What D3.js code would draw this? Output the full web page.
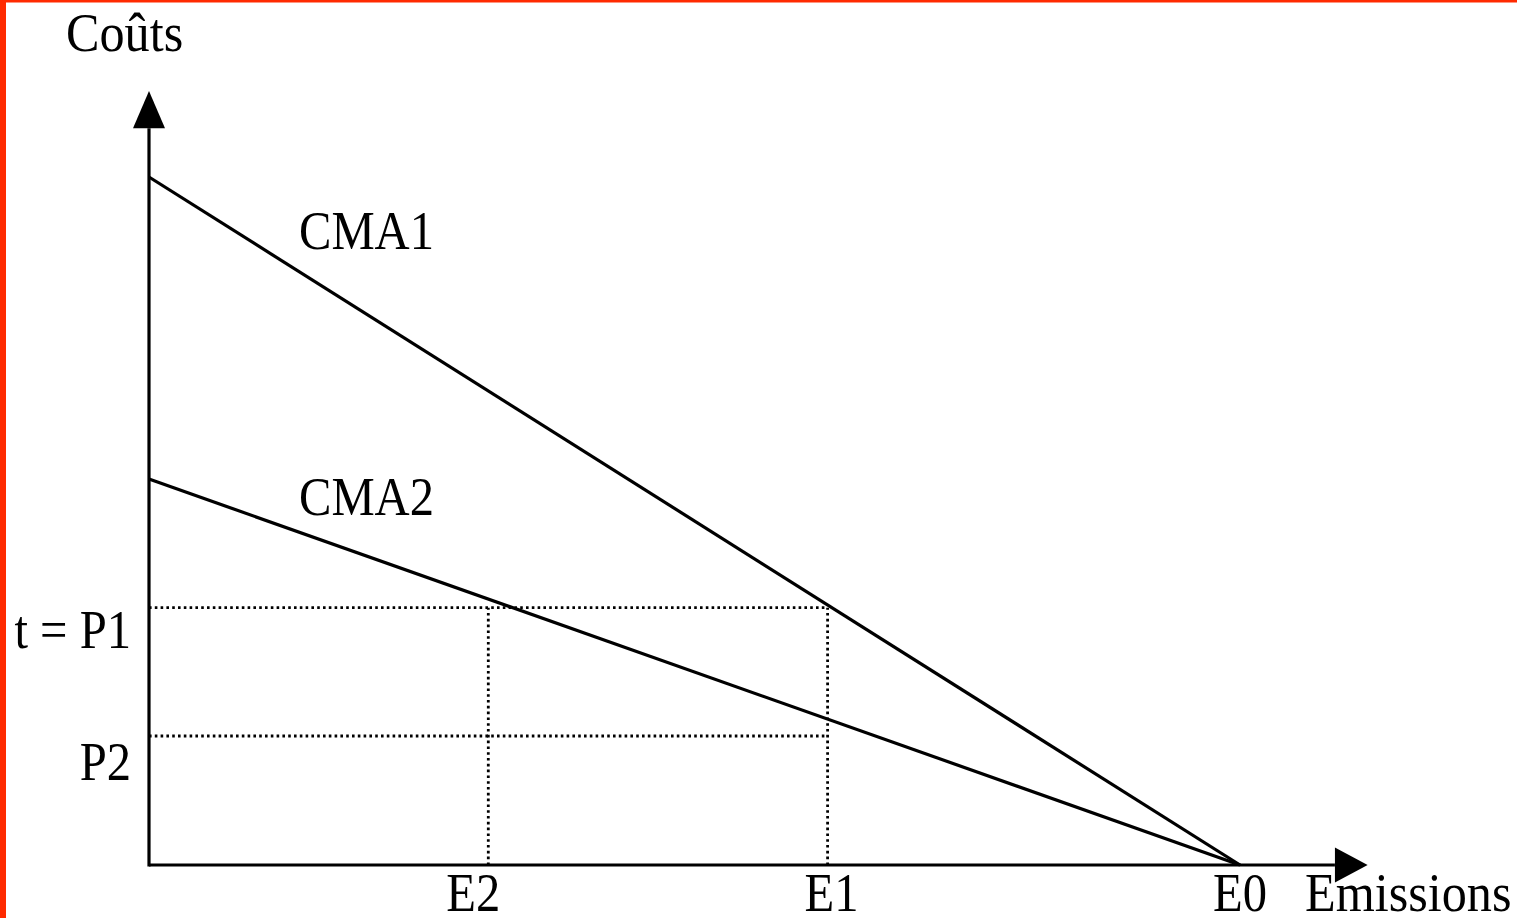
<!DOCTYPE html>
<html>
<head>
<meta charset="utf-8">
<script src="https://cdn.jsdelivr.net/npm/d3@7"></script>
<style>
  html, body { margin: 0; padding: 0; background: #fff; }
  svg { display: block; }
  text { font-family: "Liberation Serif", "Times New Roman", serif; fill: #000; }
</style>
</head>
<body>
<script>
// ---- data ----
const emissionLabels = ["E2", "E1", "E0"];
const emissionValues = [31.1, 62.2, 100];
const priceLabels = ["t = P1", "P2"];
const priceValues = [37.4, 18.75];
const curveNames = ["CMA1", "CMA2"];
const curveIntercepts = [100, 56.1];   // cost at zero emissions
const curveZeroAt = [100, 100];        // emissions where cost reaches 0 (E0)
const xAxisTitle = "Emissions";
const yAxisTitle = "Coûts";

// ---- layout ----
const W = 1517, H = 918;
const x = d3.scaleLinear().domain([0, 100]).range([149, 1240]);
const y = d3.scaleLinear().domain([0, 100]).range([865, 177]);
const xAxisEnd = 108.7, xArrowTip = 111.7;
const yAxisEnd = 107.1, yArrowTip = 112.5;
const FS = 54, SX = 0.9;

const svg = d3.select("body").append("svg").attr("width", W).attr("height", H);

// red frame edges
svg.append("rect").attr("x", 0).attr("y", 0).attr("width", 6).attr("height", H).attr("fill", "#ff2a00");
svg.append("rect").attr("x", 0).attr("y", 0).attr("width", W).attr("height", 2.5).attr("fill", "#ff2a00");

function label(txt, px, py, anchor, sx) {
  const g = svg.append("g").attr("transform", `translate(${px},${py}) scale(${sx || SX},1)`);
  g.append("text").attr("x", 0).attr("y", 0)
    .attr("font-size", FS).attr("text-anchor", anchor || "start").text(txt);
}

// dotted guide lines
const dot = { stroke: "#000", "stroke-width": 2.8, "stroke-dasharray": "2.6 3.2" };
const e1 = emissionValues[1];
priceValues.forEach(p => {
  const l = svg.append("line")
    .attr("x1", x(0)).attr("x2", x(e1)).attr("y1", y(p)).attr("y2", y(p));
  Object.entries(dot).forEach(([k, v]) => l.attr(k, v));
});
emissionValues.slice(0, 2).forEach(e => {
  const l = svg.append("line")
    .attr("x1", x(e)).attr("x2", x(e)).attr("y1", y(0)).attr("y2", y(priceValues[0]));
  Object.entries(dot).forEach(([k, v]) => l.attr(k, v));
});

// curves
const lineGen = d3.line().x(d => x(d[0])).y(d => y(d[1]));
curveNames.forEach((n, i) => {
  svg.append("path")
    .attr("d", lineGen([[0, curveIntercepts[i]], [curveZeroAt[i], 0]]))
    .attr("fill", "none").attr("stroke", "#000").attr("stroke-width", 3.2);
});

// axes
svg.append("line").attr("x1", x(0)).attr("x2", x(xAxisEnd)).attr("y1", y(0)).attr("y2", y(0))
  .attr("stroke", "#000").attr("stroke-width", 3.2);
svg.append("line").attr("x1", x(0)).attr("x2", x(0)).attr("y1", y(0) + 1.6).attr("y2", y(yAxisEnd))
  .attr("stroke", "#000").attr("stroke-width", 3.2);
svg.append("path")
  .attr("d", `M${x(xAxisEnd)},${y(0) - 17.5} L${x(xArrowTip)},${y(0)} L${x(xAxisEnd)},${y(0) + 17.5} Z`)
  .attr("fill", "#000");
svg.append("path")
  .attr("d", `M${x(0) - 16},${y(yAxisEnd)} L${x(0)},${y(yArrowTip)} L${x(0) + 16},${y(yAxisEnd)} Z`)
  .attr("fill", "#000");

// tick labels
const tickDx = [-15, 4, 0];
emissionLabels.forEach((t, i) => label(t, x(emissionValues[i]) + tickDx[i], 911, "middle"));
priceLabels.forEach((t, i) => label(t, 131, y(priceValues[i]) + (i === 0 ? 40 : 44), "end"));

// curve labels
label(curveNames[0], 299, 249);
label(curveNames[1], 299, 515);

// axis titles
label(yAxisTitle, 66, 51, "start", 0.93);
label(xAxisTitle, 1305, 911, "start", 0.93);
</script>
</body>
</html>
